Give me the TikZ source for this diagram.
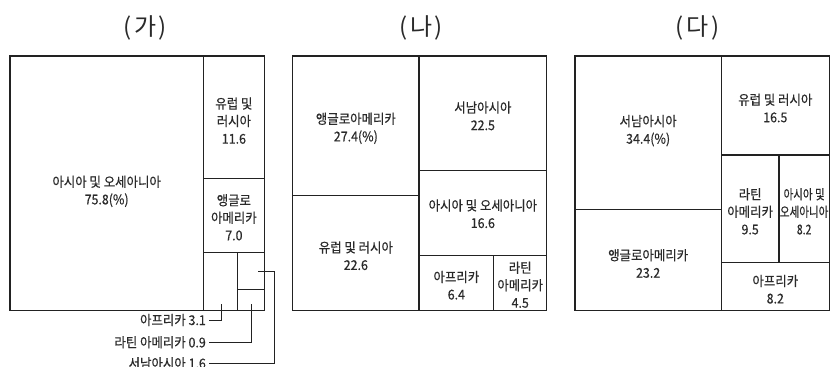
\documentclass[tikz,border=0pt]{standalone}
\usepackage{fontspec}
\setmainfont{Noto Sans CJK KR}[FakeStretch=0.92,FakeBold=0.45]
\newfontfamily\titlefont{Noto Sans CJK KR}
\newfontfamily\narrowfont{Noto Sans CJK KR}[FakeStretch=0.78,FakeBold=0.45]
\definecolor{linec}{HTML}{222222}
\definecolor{txtc}{HTML}{2A2A2A}
% #1 name, #2 x1, #3 y1, #4 x2, #5 y2, #6 text shift down, #7 text
\newcommand{\tmcell}[7]{%
  \pgfmathsetmacro{\tmcw}{#4-#2}%
  \pgfmathsetmacro{\tmch}{#5-#3}%
  \node[cellbox, minimum width=\tmcw pt, minimum height=\tmch pt] (#1) at ({(#2+#4)/2},{(#3+#5)/2}) {};%
  \node[celltext] (#1t) at ([yshift=-#6pt]#1.center) {#7};%
}
\begin{document}
\begin{tikzpicture}[x=1pt,y=-1pt,
  cellbox/.style={draw=linec, line width=1.5pt, rectangle, inner sep=0pt},
  celltext/.style={inner sep=0pt, align=center, font=\fontsize{13.5}{17.5}\selectfont, text=txtc},
  titlenode/.style={anchor=base, font=\titlefont\fontsize{24}{28}\selectfont, text=txtc, inner sep=0pt},
  leadlabel/.style={anchor=east, inner sep=0pt, font=\fontsize{13.5}{17.5}\selectfont, text=txtc},
  leader/.style={draw=linec, line width=0.9pt, shorten >=3pt}]
\useasboundingbox (0,0) rectangle (839,367);
% titles
\node[titlenode] (tA) at (145,35) {(\hspace{3pt}가\hspace{2.5pt})};
\node[titlenode] (tB) at (421,35) {(\hspace{3pt}나\hspace{2.5pt})};
\node[titlenode] (tC) at (697.5,35) {(\hspace{3pt}다\hspace{2.5pt})};
% panel (ga)
\tmcell{A1}{10}{56}{203.3}{310.7}{8}{아시아 및 오세아니아\\75.8(\%)}
\tmcell{A2}{203.3}{56}{264.5}{178.3}{3.5}{유럽 및\\러시아\\11.6}
\tmcell{A3}{203.3}{178.3}{264.5}{252.3}{2}{앵글로\\아메리카\\7.0}
\tmcell{A4}{203.3}{252.3}{237.7}{310.7}{0}{}
\tmcell{A5}{237.7}{252.3}{264.5}{289.3}{0}{}
\tmcell{A6}{237.7}{289.3}{264.5}{310.7}{0}{}
\node[leadlabel] (la) at (206,320) {아프리카 3.1};
\node[leadlabel] (lb) at (206,342.3) {라틴 아메리카 0.9};
\node[leadlabel] (lc) at (206,363.3) {서남아시아 1.6};
\coordinate (pa) at (221,304.3);
\coordinate (pb) at (251,304.3);
\coordinate (pc) at (258.3,271);
\coordinate (bc) at (274,271);
\draw[leader] (pa) |- (la.east);
\draw[leader] (pb) |- (lb.east);
\draw[leader] (pc) -- (bc) |- (lc.east);
% panel (na)
\tmcell{B1}{292.7}{56}{419}{195.7}{2.5}{앵글로아메리카\\27.4(\%)}
\tmcell{B2}{292.7}{195.7}{419}{310.7}{2.5}{유럽 및 러시아\\22.6}
\tmcell{B3}{419}{56}{546.7}{170.7}{2.5}{서남아시아\\22.5}
\tmcell{B4}{419}{170.7}{546.7}{255.7}{0.5}{아시아 및 오세아니아\\16.6}
\tmcell{B5}{419}{255.7}{493.7}{310.7}{2}{아프리카\\6.4}
\tmcell{B6}{493.7}{255.7}{546.7}{310.7}{1.5}{라틴\\아메리카\\4.5}
% panel (da)
\tmcell{C1}{575}{56}{721.3}{209.3}{-2}{서남아시아\\34.4(\%)}
\tmcell{C2}{575}{209.3}{721.3}{310.7}{3.5}{앵글로아메리카\\23.2}
\tmcell{C3}{721.3}{56}{829.3}{155}{2.5}{유럽 및 러시아\\16.5}
\tmcell{C4}{721.3}{155}{779}{262.7}{2.5}{라틴\\아메리카\\9.5}
\tmcell{C5}{779}{155}{829.3}{262.7}{2.5}{\narrowfont 아시아 및\\\narrowfont 오세아니아\\\narrowfont 8.2}
\tmcell{C6}{721.3}{262.7}{829.3}{310.7}{2.5}{아프리카\\8.2}
\end{tikzpicture}
\end{document}
